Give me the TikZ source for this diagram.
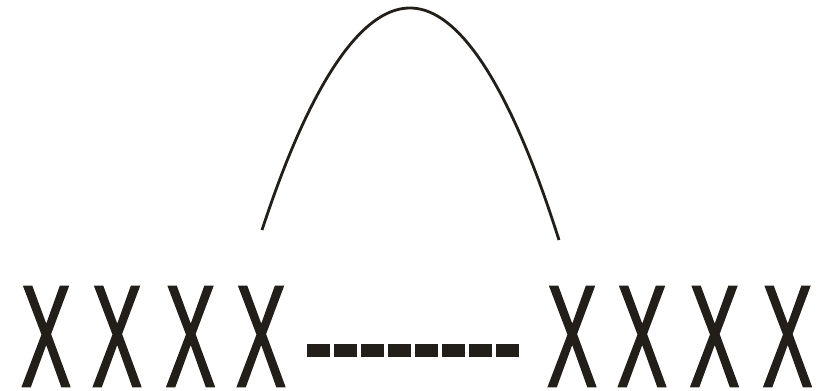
\documentclass[tikz,border=0pt]{standalone}
\usepackage{graphicx}
\usepackage{fontspec}
\setmainfont{Liberation Sans}
\newfontfamily\xfont{Liberation Sans}[FakeBold=1.8]
\definecolor{ink}{HTML}{221E1A}
\newcommand\condX{\scalebox{0.52}[1]{X}}
\begin{document}
\begin{tikzpicture}[x=1pt,y=-1pt,
  letter/.style={inner sep=0pt, text=ink, font=\fontsize{144}{144}\xfont},
  dashbox/.style={fill=ink, draw=none, inner sep=0pt, minimum width=23pt, minimum height=12.7pt},
  arcline/.style={draw=ink, line width=2.8pt}]
\useasboundingbox (0,0) rectangle (828,391);
\foreach \n/\x in {1/46,2/117,3/190.5,4/261,5/572,6/642,7/714.5,8/787.5}
  \node[letter] (x\n) at (\x,336.5) {\condX};
\foreach \i in {0,...,7}
  \node[dashbox] (d\i) at ({318.5+27*\i},350.3) {};
\coordinate (a) at (262,230);
\coordinate (top) at (410,8);
\coordinate (b) at (559,240);
\draw[arcline] (a) parabola bend (top) (b);
\end{tikzpicture}
\end{document}
